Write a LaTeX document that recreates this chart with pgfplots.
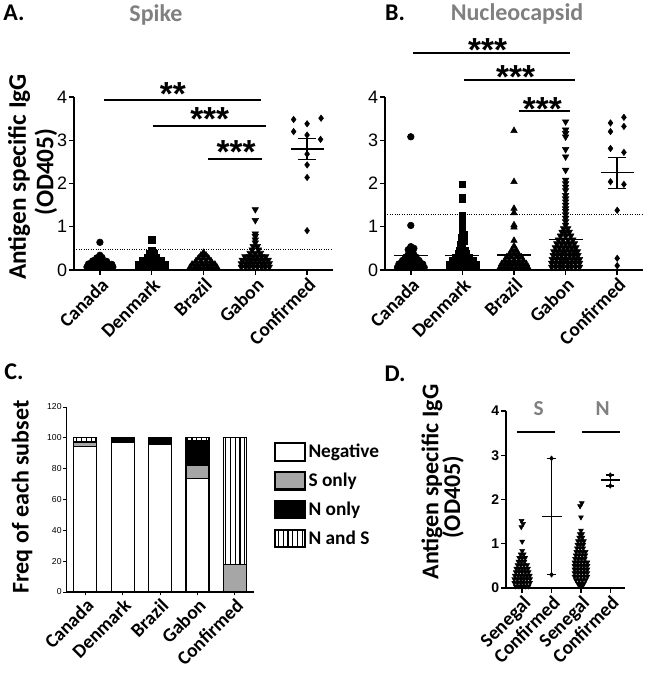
\documentclass[border=0pt]{standalone}
\usepackage{fontspec}
\setmainfont{Carlito}
\newfontfamily\arial{Liberation Sans}
\usepackage{pgfplots}
\pgfplotsset{compat=1.18}
\usetikzlibrary{patterns.meta}

\definecolor{titlegray}{RGB}{128,128,128}
\definecolor{bargray}{RGB}{166,166,166}

\tikzset{sigstar/.style={font=\arial\bfseries\fontsize{25}{25}\selectfont, anchor=north, inner sep=0pt}}

\pgfplotsset{
  dotplot/.style={
    scale only axis, axis lines=left, axis line style={-, line width=1.5pt},
    clip=false, ymin=0, ymax=4, ytick={0,1,2,3,4}, yticklabels={0,1,2,3,4},
    tick align=outside, major tick length=3.5pt, tick style={line width=1.1pt, black},
    yticklabel style={font=\arial\fontsize{13.5}{14}\selectfont, inner sep=1.5pt},
    xticklabel style={font=\bfseries\fontsize{14.5}{14.5}\selectfont, rotate=45, anchor=north east, inner sep=1pt},
    xtick={0,...,4}, xticklabels={Canada,Denmark,Brazil,Gabon,Confirmed},
    xmin=-0.5, xmax=4.5,
  },
  pts/.style={only marks, black, mark=*, mark size=2.5pt},
  sq/.style={only marks, black, mark=square*, mark size=2.3pt},
  tri/.style={only marks, black, mark=triangle*, mark size=2.8pt},
  itri/.style={only marks, black, mark=triangle*, mark size=2.8pt, mark options={rotate=180}},
  dia/.style={only marks, black, mark=diamond*, mark size=2.4pt},
  seg/.style={black, line width=1.5pt, mark=none},
  thinseg/.style={black, line width=1.1pt, mark=none},
  cut/.style={black, densely dotted, line width=0.8pt, mark=none},
  legbox/.style={legend image code/.code={\draw[##1, line width=1.6pt] (0pt,-6.5pt) rectangle (22pt,6.5pt);}},
}

\begin{document}
\begin{tikzpicture}

% ---------------- A. Spike ----------------
\begin{axis}[dotplot, at={(55.5pt,302.25pt)}, anchor=south west, width=194.25pt, height=129.75pt]
\addplot[pts] coordinates {
(-0.25,0.07)(-0.17,0.06)(-0.08,0.07)(0,0.06)(0.08,0.07)(0.17,0.06)(0.25,0.07)
(-0.22,0.14)(-0.13,0.15)(-0.04,0.14)(0.05,0.15)(0.14,0.14)(0.23,0.13)
(-0.14,0.21)(-0.05,0.22)(0.05,0.21)(0.13,0.2)
(-0.06,0.28)(0.04,0.29)(0,0.34)(0,0.64)};
\addplot[sq] coordinates {
(0.74,0.06)(0.83,0.06)(0.91,0.06)(1,0.06)(1.09,0.06)(1.17,0.06)(1.26,0.06)
(0.74,0.14)(0.83,0.14)(0.91,0.14)(1,0.14)(1.09,0.14)(1.17,0.14)(1.26,0.14)
(0.82,0.22)(0.91,0.22)(1,0.22)(1.09,0.22)(1.18,0.22)
(0.91,0.3)(1,0.3)(1.09,0.3)
(0.96,0.38)(1.04,0.38)(1,0.46)(1,0.7)};
\addplot[tri] coordinates {
(1.74,0.06)(1.83,0.06)(1.91,0.06)(2,0.06)(2.09,0.06)(2.17,0.06)(2.26,0.06)
(1.78,0.13)(1.87,0.13)(1.96,0.13)(2.05,0.13)(2.14,0.13)(2.22,0.13)
(1.85,0.2)(1.95,0.2)(2.05,0.2)(2.15,0.2)
(1.9,0.27)(2,0.27)(2.1,0.27)
(1.95,0.34)(2.05,0.34)(2,0.4)};
\addplot[itri] coordinates {
(2.73,0.07)(2.81,0.07)(2.88,0.07)(2.96,0.07)(3.04,0.07)(3.12,0.07)(3.19,0.07)(3.27,0.07)
(2.73,0.15)(2.81,0.15)(2.88,0.15)(2.96,0.15)(3.04,0.15)(3.12,0.15)(3.19,0.15)(3.27,0.15)
(2.75,0.23)(2.84,0.23)(2.92,0.23)(3,0.23)(3.08,0.23)(3.16,0.23)(3.25,0.23)
(2.8,0.31)(2.88,0.31)(2.96,0.31)(3.04,0.31)(3.12,0.31)(3.2,0.31)
(2.9,0.39)(3,0.39)(3.1,0.39)
(2.94,0.47)(3.06,0.47)(2.96,0.55)(3.04,0.55)(3,0.63)(3,0.7)(3,0.78)(3,0.84)(3,1.15)(3,1.4)};
\addplot[dia] coordinates {
(3.74,3.48)(4,3.38)(4.27,3.51)(3.74,3.20)(4,3.12)(4.26,3.02)(4,2.68)(4,2.43)(4,2.14)(4,0.91)};
\addplot[thinseg] coordinates {(3.68,2.80)(4.32,2.80)};
\addplot[thinseg] coordinates {(4,2.56)(4,3.04)};
\addplot[thinseg] coordinates {(3.82,3.04)(4.18,3.04)};
\addplot[thinseg] coordinates {(3.82,2.56)(4.18,2.56)};
\addplot[cut] coordinates {(-0.5,0.48)(4.5,0.48)};
\addplot[seg] coordinates {(0.08,3.93)(3.11,3.93)};
\addplot[seg] coordinates {(1.03,3.33)(3.21,3.33)};
\addplot[seg] coordinates {(2.09,2.57)(3.13,2.57)};
\node[sigstar] at (axis cs:1.41,4.34) {**};
\node[sigstar] at (axis cs:2.12,3.76) {***};
\node[sigstar] at (axis cs:2.63,3.0) {***};
\end{axis}

% ---------------- B. Nucleocapsid ----------------
\begin{axis}[dotplot, at={(288.75pt,302.25pt)}, anchor=south west, width=193.5pt, height=129.75pt]
\addplot[pts] coordinates {
(-0.26,0.06)(-0.17,0.06)(-0.09,0.06)(0,0.06)(0.09,0.06)(0.17,0.06)(0.26,0.06)
(-0.23,0.14)(-0.14,0.14)(-0.05,0.14)(0.05,0.14)(0.14,0.14)(0.23,0.14)
(-0.16,0.22)(-0.06,0.22)(0.06,0.22)(0.16,0.22)
(-0.1,0.3)(0,0.3)(0.1,0.3)
(-0.04,0.38)(0.05,0.38)(-0.05,0.47)(0.06,0.5)(0,0.54)(0,1.03)(0,3.08)};
\addplot[sq] coordinates {
(0.74,0.06)(0.83,0.06)(0.91,0.06)(1,0.06)(1.09,0.06)(1.17,0.06)(1.26,0.06)
(0.74,0.14)(0.83,0.14)(0.91,0.14)(1,0.14)(1.09,0.14)(1.17,0.14)(1.26,0.14)
(0.8,0.22)(0.9,0.22)(1,0.22)(1.1,0.22)(1.2,0.22)
(0.86,0.3)(0.95,0.3)(1.05,0.3)(1.14,0.3)
(0.92,0.38)(1,0.38)(1.08,0.38)(0.95,0.46)(1.05,0.46)
(1,0.54)(0.96,0.6)(1.04,0.66)(0.97,0.75)(1.03,0.82)
(1,0.62)(1,0.7)(1,0.78)(1,0.86)(1,0.94)(1,1.02)(1,1.1)(1,1.18)(1,1.26)
(1,1.63)(1,1.68)(1,1.98)};
\addplot[tri] coordinates {
(1.73,0.06)(1.81,0.06)(1.88,0.06)(1.96,0.06)(2.04,0.06)(2.12,0.06)(2.19,0.06)(2.27,0.06)
(1.76,0.14)(1.84,0.14)(1.92,0.14)(2,0.14)(2.08,0.14)(2.16,0.14)(2.24,0.14)
(1.82,0.22)(1.91,0.22)(2,0.22)(2.09,0.22)(2.18,0.22)
(1.86,0.3)(1.95,0.3)(2.05,0.3)(2.14,0.3)
(1.92,0.38)(2,0.38)(2.08,0.38)(1.96,0.46)(2.04,0.46)
(2,0.55)(2,0.68)(2,0.99)(2,1.04)(2,1.32)(2,1.42)(2,2.04)(2,3.22)};
\addplot[itri] coordinates {
(2.73,0.07)(2.81,0.07)(2.89,0.07)(2.96,0.07)(3.04,0.07)(3.11,0.07)(3.19,0.07)(3.27,0.07)
(2.73,0.16)(2.81,0.16)(2.89,0.16)(2.96,0.16)(3.04,0.16)(3.11,0.16)(3.19,0.16)(3.27,0.16)
(2.74,0.25)(2.82,0.25)(2.9,0.25)(2.97,0.25)(3.04,0.25)(3.12,0.25)(3.2,0.25)(3.27,0.25)
(2.76,0.34)(2.84,0.34)(2.92,0.34)(3,0.34)(3.08,0.34)(3.16,0.34)(3.24,0.34)
(2.77,0.43)(2.85,0.43)(2.93,0.43)(3,0.43)(3.08,0.43)(3.16,0.43)(3.23,0.43)
(2.8,0.52)(2.88,0.52)(2.96,0.52)(3.04,0.52)(3.12,0.52)(3.2,0.52)
(2.83,0.61)(2.92,0.61)(3,0.61)(3.08,0.61)(3.17,0.61)
(2.86,0.7)(2.95,0.7)(3.05,0.7)(3.14,0.7)
(2.9,0.79)(3,0.79)(3.1,0.79)(2.93,0.88)(3,0.88)(3.07,0.88)(2.96,0.96)(3.04,0.96)
(3,1.04)(3,1.12)(3,1.2)(3,1.28)(3,1.36)(3,1.42)(3,1.5)(3,1.58)(3,1.65)(3,1.73)
(3,1.84)(3,1.92)(3,2.0)(3,2.08)(3,2.31)(3,2.62)(3,2.79)(3,3.08)(3,3.16)(3,3.24)(3,3.43)};
\addplot[dia] coordinates {
(3.87,3.40)(3.87,3.20)(4.13,3.53)(4.13,3.32)(3.87,2.81)(4.13,2.72)(3.87,2.04)(4.13,1.98)(4,1.38)(4,0.27)(4,0.10)};
\addplot[thinseg] coordinates {(-0.33,0.33)(0.33,0.33)};
\addplot[thinseg] coordinates {(0.67,0.33)(1.33,0.33)};
\addplot[thinseg] coordinates {(1.67,0.35)(2.33,0.35)};
\addplot[thinseg] coordinates {(2.67,0.71)(3.33,0.71)};
\addplot[thinseg] coordinates {(3.68,2.25)(4.32,2.25)};
\addplot[thinseg] coordinates {(4,1.88)(4,2.60)};
\addplot[thinseg] coordinates {(3.82,2.60)(4.18,2.60)};
\addplot[thinseg] coordinates {(3.82,1.88)(4.18,1.88)};
\addplot[cut] coordinates {(-0.5,1.29)(4.5,1.29)};
\addplot[seg] coordinates {(0.04,5.02)(3.09,5.02)};
\addplot[seg] coordinates {(1.03,4.39)(3.19,4.39)};
\addplot[seg] coordinates {(2.09,3.68)(3.09,3.68)};
\node[sigstar] at (axis cs:1.49,5.36) {***};
\node[sigstar] at (axis cs:2.03,4.73) {***};
\node[sigstar] at (axis cs:2.55,4.0) {***};
\end{axis}

% ---------------- C. Frequencies ----------------
\begin{axis}[scale only axis, at={(49.9pt,60.75pt)}, anchor=south west, width=140.25pt, height=138.75pt,
  axis lines=left, axis line style={-, line width=0.9pt}, clip=false,
  ybar stacked, bar width=17.25pt,
  xmin=-0.5, xmax=4.5, ymin=0, ymax=120,
  ytick={0,20,...,120}, yticklabels={0,20,40,60,80,100,120},
  yticklabel style={font=\arial\fontsize{6.5}{7}\selectfont, inner sep=1pt},
  xtick={0,...,4}, xticklabels={Canada,Denmark,Brazil,Gabon,Confirmed},
  xticklabel style={font=\bfseries\fontsize{14.5}{14.5}\selectfont, rotate=45, anchor=north east, inner sep=1pt},
  tick align=outside, major tick length=2.5pt, tick style={line width=0.6pt, black},
  legend style={at={(1.11,0.815)}, anchor=north west, draw=none, fill=none, inner sep=0pt,
    font=\bfseries\fontsize{14.5}{15}\selectfont, row sep=6pt},
  legend cell align=left,
]
\addplot[fill=white, draw=black, line width=0.9pt, legbox] coordinates {(0,94.5)(1,96.8)(2,95.5)(3,73.5)(4,0)};
\addplot[fill=bargray, draw=black, line width=0.9pt, legbox] coordinates {(0,2.3)(1,0)(2,0)(3,8.3)(4,18)};
\addplot[fill=black, draw=black, line width=0.9pt, legbox] coordinates {(0,0.7)(1,3.2)(2,4.5)(3,16.5)(4,0)};
\addplot[pattern={Lines[angle=90, distance=3.6pt, line width=0.8pt]}, draw=black, line width=0.9pt, legbox] coordinates {(0,2.5)(1,0)(2,0)(3,1.7)(4,82)};
\legend{Negative,S only,N only,N and S}
\end{axis}

% ---------------- D. Senegal ----------------
\begin{axis}[dotplot, at={(379.5pt,63.75pt)}, anchor=south west, width=89.25pt, height=132.75pt,
  xmin=-0.55, xmax=3.5, xtick={0,1,2,3}, xticklabels={Senegal,Confirmed,Senegal,Confirmed},
  xticklabel style={font=\bfseries\fontsize{14.5}{14.5}\selectfont},
  yticklabel style={font=\arial\bfseries\fontsize{10.5}{11}\selectfont},
  itri/.append style={mark size=2.1pt},
]
\addplot[itri] coordinates {
(-0.22,0.04)(-0.11,0.04)(0,0.04)(0.11,0.04)(0.22,0.04)
(-0.27,0.12)(-0.16,0.12)(-0.05,0.12)(0.05,0.12)(0.16,0.12)(0.27,0.12)
(-0.27,0.2)(-0.16,0.2)(-0.05,0.2)(0.05,0.2)(0.16,0.2)(0.27,0.2)
(-0.25,0.28)(-0.14,0.28)(-0.04,0.28)(0.06,0.28)(0.16,0.28)(0.26,0.28)
(-0.22,0.36)(-0.11,0.36)(0,0.36)(0.11,0.36)(0.22,0.36)
(-0.2,0.44)(-0.1,0.44)(0,0.44)(0.1,0.44)(0.2,0.44)
(-0.16,0.52)(-0.05,0.52)(0.06,0.52)(0.17,0.52)
(-0.13,0.6)(-0.03,0.6)(0.08,0.6)(-0.1,0.68)(0,0.68)(0.1,0.68)
(-0.05,0.76)(0.05,0.76)(0,0.84)(0,1.05)(-0.03,1.38)(0.03,1.45)(-0.02,1.52)};
\addplot[itri] coordinates {
(1.95,0.05)(2.05,0.05)(1.9,0.1)(2,0.1)(2.1,0.1)
(1.83,0.18)(1.94,0.18)(2.05,0.18)(2.16,0.18)
(1.78,0.26)(1.89,0.26)(2,0.26)(2.11,0.26)(2.22,0.26)
(1.78,0.34)(1.89,0.34)(2,0.34)(2.11,0.34)(2.22,0.34)
(1.78,0.42)(1.89,0.42)(2,0.42)(2.11,0.42)(2.22,0.42)
(1.78,0.5)(1.89,0.5)(2,0.5)(2.11,0.5)(2.22,0.5)
(1.78,0.58)(1.89,0.58)(2,0.58)(2.11,0.58)(2.22,0.58)
(1.8,0.66)(1.91,0.66)(2.02,0.66)(2.13,0.66)
(1.82,0.74)(1.93,0.74)(2.04,0.74)(2.15,0.74)
(1.84,0.82)(1.95,0.82)(2.06,0.82)(2.16,0.82)
(1.86,0.9)(1.97,0.9)(2.08,0.9)(1.88,0.98)(1.98,0.98)(2.08,0.98)
(1.9,1.06)(2,1.06)(2.1,1.06)(1.94,1.14)(2.05,1.14)(1.96,1.22)(2.04,1.22)
(2,1.3)(2,1.6)(1.97,1.85)(2.03,1.92)};
\addplot[dia, mark size=1.8pt] coordinates {(1,2.93)(1,0.30)(3,2.55)(3,2.31)};
\addplot[thinseg] coordinates {(1,0.30)(1,2.93)};
\addplot[thinseg] coordinates {(0.84,2.93)(1.16,2.93)};
\addplot[thinseg] coordinates {(0.84,0.30)(1.16,0.30)};
\addplot[thinseg] coordinates {(0.66,1.61)(1.34,1.61)};
\addplot[thinseg] coordinates {(3,2.31)(3,2.55)};
\addplot[thinseg] coordinates {(2.86,2.55)(3.14,2.55)};
\addplot[thinseg] coordinates {(2.86,2.31)(3.14,2.31)};
\addplot[thinseg] coordinates {(2.68,2.44)(3.32,2.44)};
\addplot[seg] coordinates {(-0.16,3.53)(1.13,3.53)};
\addplot[seg] coordinates {(2.05,3.53)(3.33,3.53)};
\node[font=\bfseries\fontsize{16}{16}\selectfont, text=titlegray] at (axis cs:0.56,4.05) {S};
\node[font=\bfseries\fontsize{16}{16}\selectfont, text=titlegray] at (axis cs:2.74,4.05) {N};
\end{axis}

% ---------------- titles and labels ----------------
\node[font=\bfseries\fontsize{18}{18}\selectfont] at (10.5pt,495pt) {A.};
\node[font=\bfseries\fontsize{18}{18}\selectfont] at (296.25pt,495pt) {B.};
\node[font=\bfseries\fontsize{18}{18}\selectfont] at (10.5pt,225.75pt) {C.};
\node[font=\bfseries\fontsize{18}{18}\selectfont] at (296.25pt,224.25pt) {D.};
\node[font=\bfseries\fontsize{18}{18}\selectfont, text=titlegray] at (117pt,493.5pt) {Spike};
\node[font=\bfseries\fontsize{18}{18}\selectfont, text=titlegray] at (387.75pt,494.25pt) {Nucleocapsid};
\node[font=\bfseries\fontsize{19}{19}\selectfont, rotate=90] at (14.25pt,372pt) {Antigen specific IgG};
\node[font=\bfseries\fontsize{19}{19}\selectfont, rotate=90] at (34.5pt,375.75pt) {(OD405)};
\node[font=\bfseries\fontsize{18}{18}\selectfont, rotate=90] at (16.5pt,132pt) {Freq of each subset};
\node[font=\bfseries\fontsize{18}{18}\selectfont, rotate=90] at (324pt,143.25pt) {Antigen specific IgG};
\node[font=\bfseries\fontsize{18}{18}\selectfont, rotate=90] at (339.75pt,132pt) {(OD405)};

\pgfresetboundingbox
\path[use as bounding box] (0pt,0pt) rectangle (483.75pt,504.75pt);
\end{tikzpicture}
\end{document}
